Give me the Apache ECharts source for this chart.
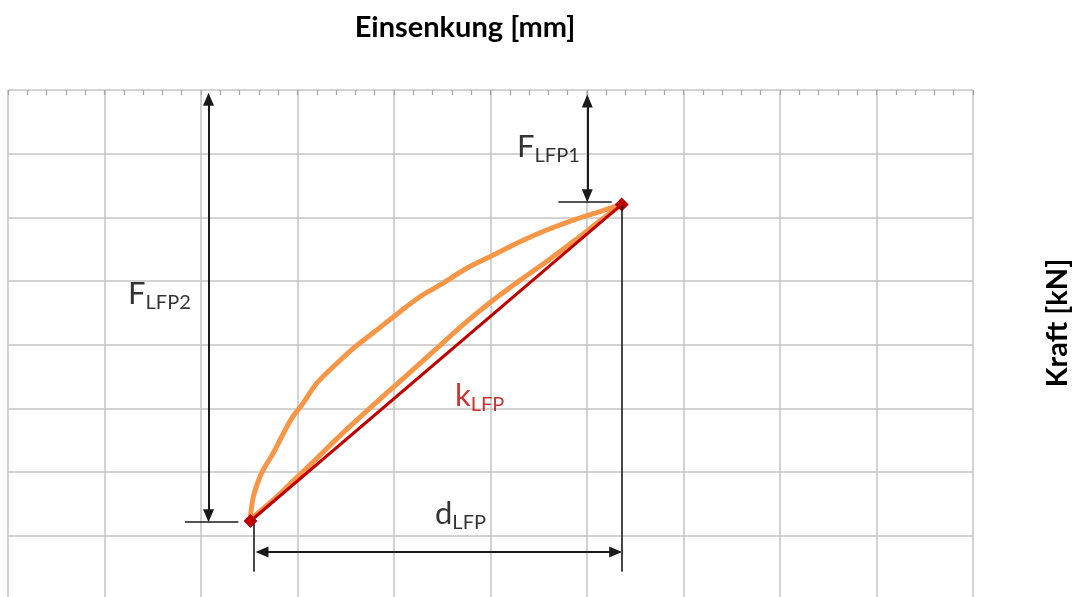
<!DOCTYPE html>
<html>
<head>
<meta charset="utf-8">
<script src="https://cdn.jsdelivr.net/npm/echarts@6/dist/echarts.min.js"></script>
<style>
  html, body { margin: 0; padding: 0; background: #fff; }
  #chart { width: 1081px; height: 597px; }
</style>
</head>
<body>
<div id="chart"></div>
<script>
// Axis ranges (mm / kN), no tick labels are drawn
const xRange = [0, 10];
const yRange = [0, 9];
const xMinorStep = 0.2;

// Hysteresis loop: loading branch (upper) and unloading branch (lower)
const loadingCurve = [
  [2.508, 2.250], [2.542, 2.615], [2.611, 2.929], [2.663, 3.086], [2.749, 3.301],
  [2.836, 3.557], [2.940, 3.846], [3.044, 4.055], [3.199, 4.396], [3.371, 4.656],
  [3.578, 4.945], [3.821, 5.232], [4.062, 5.520], [4.269, 5.755], [4.477, 5.939],
  [4.753, 6.201], [5.029, 6.410], [5.306, 6.619], [5.582, 6.802], [5.858, 6.959],
  [6.135, 7.089], [6.342, 7.195]
];
const unloadingCurve = [
  [2.508, 2.250], [2.749, 2.564], [2.956, 2.863], [3.164, 3.163], [3.406, 3.524],
  [3.682, 3.912], [3.959, 4.287], [4.235, 4.661], [4.443, 4.945], [4.753, 5.363],
  [5.029, 5.703], [5.306, 6.014], [5.582, 6.309], [5.858, 6.620], [6.135, 6.947],
  [6.342, 7.184]
];

// Secant stiffness line k_LFP between the two turning points
const secantPoints = [[2.513, 2.234], [6.360, 7.203]];

// Dimension arrows: [start, end]
const arrowF2 = [[2.078, 8.854], [2.078, 2.317]];
const arrowF1 = [[6.003, 8.827], [6.003, 7.341]];
const arrowD  = [[2.632, 1.747], [6.297, 1.747]];

// Extension / reference lines without heads
const refLines = [
  [[1.834, 2.223], [2.387, 2.223]],
  [[5.703, 7.247], [6.256, 7.247]],
  [[2.549, 2.192], [2.549, 1.438]],
  [[6.363, 7.195], [6.363, 1.438]]
];

// Annotation labels: [x, y, main, subscript, colour]
const annotations = [
  [1.244, 5.797, 'F', 'LFP2', '#000000'],
  [5.275, 8.105, 'F', 'LFP1', '#000000'],
  [4.632, 4.196, 'k', 'LFP', '#c00000'],
  [4.425, 2.344, 'd', 'LFP', '#000000']
];

const xTitle = 'Einsenkung [mm]';
const yTitle = 'Kraft [kN]';

const FONT = 'Lato';
const GRID_COLOR = '#c4c4c4';
const LINE_COLOR = '#1a1a1a';

const chart = echarts.init(document.getElementById('chart'), null, { renderer: 'canvas' });

function twoPoint(pair) {
  return [{ coord: pair[0] }, { coord: pair[1] }];
}

function richStyles(color) {
  return {
    m: { color: color, fontFamily: FONT, fontSize: 31, lineHeight: 38 },
    s: { color: color, fontFamily: FONT, fontSize: 20, lineHeight: 38, padding: [17, 0, 0, 0] }
  };
}

const option = {
  animation: false,
  backgroundColor: '#ffffff',
  // plot area runs past the lower edge of the canvas
  grid: { left: 8, top: 90, width: 965, height: 573.3, containLabel: false, outerBoundsMode: 'none' },
  xAxis: [
    {
      type: 'value', position: 'top',
      min: xRange[0], max: xRange[1], interval: 1,
      axisLabel: { show: false },
      axisLine: { show: true, lineStyle: { color: GRID_COLOR, width: 1.5 } },
      axisTick: { show: false },
      splitLine: { show: true, lineStyle: { color: GRID_COLOR, width: 1.5 } }
    },
    {
      // fine tick marks along the upper edge
      type: 'value', position: 'top',
      min: xRange[0], max: xRange[1], interval: xMinorStep,
      axisLabel: { show: false },
      axisLine: { show: false },
      axisTick: { show: true, inside: true, length: 5, lineStyle: { color: '#a6a6a6', width: 1.3 } },
      splitLine: { show: false }
    }
  ],
  yAxis: {
    type: 'value',
    min: yRange[0], max: yRange[1], interval: 1,
    axisLabel: { show: false },
    axisLine: { show: false },
    axisTick: { show: false },
    splitLine: { show: true, lineStyle: { color: GRID_COLOR, width: 1.5 } }
  },
  graphic: [
    {
      type: 'text', x: 465, y: 28,
      style: { text: xTitle, font: 'bold 29px "' + FONT + '"', fill: '#000', align: 'center', verticalAlign: 'middle' }
    },
    {
      type: 'text', x: 1058, y: 323, rotation: Math.PI / 2,
      style: { text: yTitle, font: 'bold 29px "' + FONT + '"', fill: '#000', align: 'center', verticalAlign: 'middle' }
    }
  ],
  series: [
    {
      name: 'Belastung', type: 'line', data: loadingCurve, smooth: 0.3,
      showSymbol: false, z: 3,
      lineStyle: { color: '#f79646', width: 5, cap: 'round', join: 'round' }
    },
    {
      name: 'Entlastung', type: 'line', data: unloadingCurve, smooth: 0.3,
      showSymbol: false, z: 3,
      lineStyle: { color: '#f79646', width: 5, cap: 'round', join: 'round' }
    },
    {
      name: 'kLFP', type: 'line', data: secantPoints, z: 4,
      symbol: 'diamond', symbolSize: 14, showSymbol: true,
      itemStyle: { color: '#c00000' },
      lineStyle: { color: '#c00000', width: 3 }
    },
    {
      name: 'Bemaßung', type: 'line', data: [], z: 5,
      markLine: {
        silent: true, animation: false,
        symbol: ['triangle', 'triangle'], symbolSize: [11, 13],
        label: { show: false },
        lineStyle: { color: LINE_COLOR, width: 2, type: 'solid' },
        data: [twoPoint(arrowF2), twoPoint(arrowF1), twoPoint(arrowD)]
      }
    },
    {
      name: 'Hilfslinien', type: 'line', data: [], z: 5,
      markLine: {
        silent: true, animation: false,
        symbol: ['none', 'none'],
        label: { show: false },
        lineStyle: { color: LINE_COLOR, width: 1.6, type: 'solid' },
        data: refLines.map(twoPoint)
      }
    },
    {
      name: 'Beschriftung', type: 'scatter', z: 6, symbolSize: 0,
      data: annotations.map(a => ({
        value: [a[0], a[1]], main: a[2], sub: a[3],
        label: { rich: richStyles(a[4]) }
      })),
      label: {
        show: true, position: 'right', distance: 0,
        formatter: p => '{m|' + p.data.main + '}{s|' + p.data.sub + '}'
      },
      labelLayout: { hideOverlap: false }
    }
  ]
};

chart.setOption(option);
</script>
</body>
</html>
